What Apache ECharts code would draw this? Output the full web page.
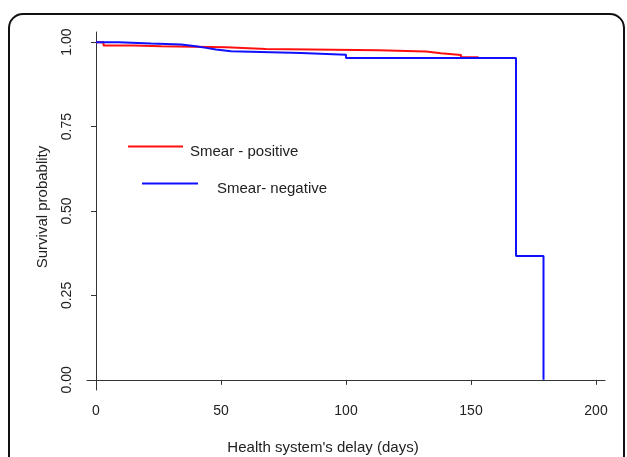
<!DOCTYPE html>
<html>
<head>
<meta charset="utf-8">
<style>
  html, body { margin: 0; padding: 0; background: #fff; }
  #main { width: 627px; height: 457px; }
</style>
<script src="https://cdn.jsdelivr.net/npm/echarts@6/dist/echarts.min.js"></script>
</head>
<body>
<div id="main"></div>
<script>
// 数据: Kaplan-Meier 曲线 (时间 -> 生存率)
var posTimes = [0, 3, 15, 26, 52, 68, 113, 132, 138, 146, 153];
var posSurv  = [1, 0.99, 0.988, 0.985, 0.98, 0.976, 0.972, 0.967, 0.962, 0.955, 0.955];

var negTimes = [0, 9, 22, 34, 40, 44, 48, 54, 82, 100, 168, 179];
var negSurv  = [1, 0.996, 0.993, 0.988, 0.983, 0.978, 0.973, 0.968, 0.963, 0.953, 0.367, 0];

var xTicks = [0, 50, 100, 150, 200];
var yTicks = [0, 0.25, 0.5, 0.75, 1];

var seriesNames = ['Smear - positive', 'Smear- negative'];

function pairs(ts, vs) {
    var out = [];
    for (var i = 0; i < ts.length; i++) out.push([ts[i], vs[i]]);
    return out;
}

var chart = echarts.init(document.getElementById('main'));
var font = 'Liberation Sans, Arial, sans-serif';

// 图例文字比线条略低
function legendText(leftPad) {
    return {
        fontSize: 15, fontFamily: font, color: '#222',
        rich: {
            t: { fontSize: 15, fontFamily: font, color: '#222', padding: [10, 0, 0, leftPad] }
        }
    };
}

var option = {
    animation: false,
    grid: { left: 87, right: 22, top: 32, bottom: 67 },
    xAxis: {
        type: 'value',
        min: -3.6,
        max: 203.6,
        splitLine: { show: false },
        axisLine: { show: true, lineStyle: { color: '#333', width: 1 } },
        axisTick: { show: true, length: 5, customValues: xTicks, lineStyle: { color: '#333' } },
        axisLabel: {
            customValues: xTicks,
            margin: 14,
            color: '#222',
            fontSize: 14,
            fontFamily: font
        }
    },
    yAxis: {
        type: 'value',
        min: -0.03,
        max: 1.03,
        splitLine: { show: false },
        axisLine: { show: true, lineStyle: { color: '#333', width: 1 } },
        axisTick: { show: true, length: 5, customValues: yTicks, lineStyle: { color: '#333' } },
        axisLabel: {
            customValues: yTicks,
            rotate: 90,
            margin: 13,
            color: '#222',
            fontSize: 14,
            fontFamily: font,
            formatter: function (v) { return v.toFixed(2); }
        }
    },
    // 图例: 两个独立位置
    legend: [{
        data: [seriesNames[0]],
        left: 128, top: 144,
        padding: 0,
        itemWidth: 55, itemHeight: 2, icon: 'rect',
        formatter: '{t|{name}}',
        textStyle: legendText(2),
        selectedMode: false
    }, {
        data: [seriesNames[1]],
        left: 142, top: 181,
        padding: 0,
        itemWidth: 56, itemHeight: 2, icon: 'rect',
        formatter: '{t|{name}}',
        textStyle: legendText(14),
        selectedMode: false
    }],
    graphic: [{
        type: 'rect',
        shape: { x: 9, y: 14, width: 615, height: 470, r: 14 },
        style: { fill: 'none', stroke: '#111', lineWidth: 2 },
        silent: true
    }, {
        type: 'text',
        x: 323, y: 448,
        style: {
            text: "Health system's delay (days)",
            fontSize: 15, fontFamily: font, fill: '#222',
            align: 'center', verticalAlign: 'middle'
        }
    }, {
        type: 'text',
        x: 43, y: 207,
        rotation: Math.PI / 2,
        style: {
            text: 'Survival probablity',
            fontSize: 15, fontFamily: font, fill: '#222',
            align: 'center', verticalAlign: 'middle'
        }
    }],
    series: [{
        name: seriesNames[0],
        type: 'line',
        step: 'end',
        symbol: 'none',
        color: '#ff1010',
        lineStyle: { width: 2, color: '#ff1010' },
        data: pairs(posTimes, posSurv)
    }, {
        name: seriesNames[1],
        type: 'line',
        step: 'end',
        symbol: 'none',
        color: '#1010ff',
        lineStyle: { width: 2, color: '#1010ff' },
        data: pairs(negTimes, negSurv)
    }]
};

chart.setOption(option);
</script>
</body>
</html>
